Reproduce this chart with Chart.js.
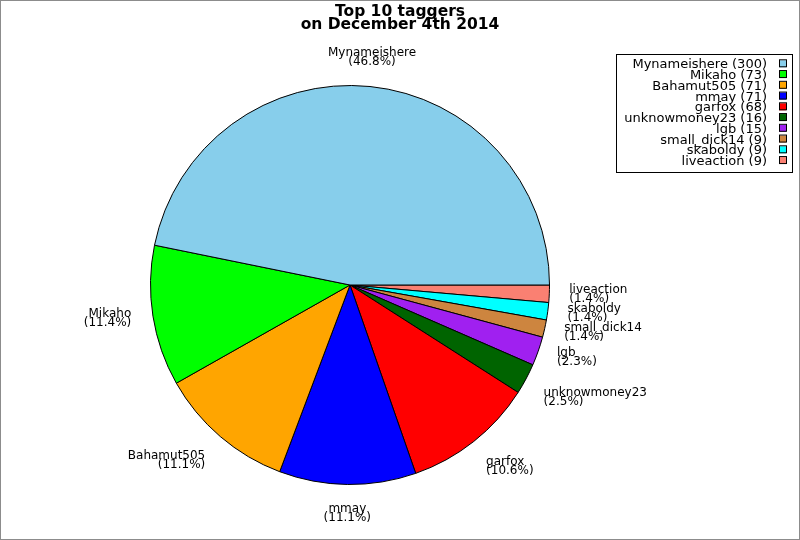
<!DOCTYPE html>
<html>
<head>
<meta charset="utf-8">
<script src="https://cdn.jsdelivr.net/npm/chart.js@4/dist/chart.umd.min.js"></script>
<style>
  html, body { margin: 0; padding: 0; background: #fff; }
  #wrap { width: 800px; height: 540px; }
</style>
</head>
<body>
<div id="wrap"><canvas id="pie" width="800" height="540"></canvas></div>
<script>
// legend order (largest first)
const taggers = ['Mynameishere', 'Mikaho', 'Bahamut505', 'mmay', 'garfox', 'unknowmoney23', 'lgb', 'small_dick14', 'skaboldy', 'liveaction'];
const tagCounts = [300, 73, 71, 71, 68, 16, 15, 9, 9, 9];
const sliceColors = ['#87ceeb', '#00ff00', '#ffa500', '#0000ff', '#ff0000', '#006400', '#a020f0', '#cd853f', '#00ffff', '#fa8072'];
const titleLines = ['Top 10 taggers', 'on December 4th 2014'];

const total = tagCounts.reduce((s, v) => s + v, 0);
const pctText = v => '(' + (v * 100 / total).toFixed(1) + '%)';

// chart.js goes clockwise, the reference goes counter-clockwise from east
const drawNames = taggers.slice().reverse();
const drawCounts = tagCounts.slice().reverse();
const drawColors = sliceColors.slice().reverse();

const framePlugin = {
    id: 'frame',
    beforeDraw(chart) {
        const ctx = chart.ctx;
        ctx.save();
        ctx.fillStyle = '#fff';
        ctx.fillRect(0, 0, chart.width, chart.height);
        ctx.restore();
    },
    afterDraw(chart) {
        const ctx = chart.ctx;
        ctx.save();
        ctx.strokeStyle = '#8c8c8c';
        ctx.lineWidth = 1;
        ctx.strokeRect(0.5, 0.5, chart.width - 1, chart.height - 1);

        // title
        ctx.fillStyle = '#000';
        ctx.font = 'bold 15.5px "DejaVu Sans"';
        ctx.textAlign = 'center';
        ctx.textBaseline = 'alphabetic';
        ctx.fillText(titleLines[0], 400, 15.7);
        ctx.fillText(titleLines[1], 400, 29.3);

        // slice labels
        ctx.font = '12px "DejaVu Sans"';
        const meta = chart.getDatasetMeta(0);
        meta.data.forEach((arc, i) => {
            const p = arc.getProps(['x', 'y', 'startAngle', 'endAngle', 'outerRadius'], true);
            const a = (p.startAngle + p.endAngle) / 2;
            const r = p.outerRadius * 1.1;
            const px = p.x + Math.cos(a) * r;
            const py = p.y + Math.sin(a) * r;
            let deg = -a * 180 / Math.PI;
            deg = ((deg % 360) + 360) % 360;
            const oct = Math.floor(((deg + 22.5) % 360) / 45);
            let hx = 'center', x = px;
            if (oct === 0 || oct === 1 || oct === 7) { hx = 'left'; }
            if (oct === 3 || oct === 4 || oct === 5) { hx = 'right'; x = px - 2; }
            let y0;
            if (oct === 1 || oct === 2 || oct === 3) y0 = py - 11;
            else if (oct === 5 || oct === 6 || oct === 7) y0 = py + 7.5;
            else y0 = py - 1.8;
            ctx.textAlign = hx;
            ctx.fillText(drawNames[i], x, y0);
            ctx.fillText(pctText(drawCounts[i]), x, y0 + 9);
        });

        // legend box
        ctx.strokeStyle = '#000';
        ctx.strokeRect(616.5, 54.5, 176, 118);
        ctx.font = '13px "DejaVu Sans"';
        ctx.textAlign = 'right';
        taggers.forEach((name, i) => {
            const base = 68.3 + i * 10.75;
            ctx.fillStyle = '#000';
            ctx.fillText(name + ' (' + tagCounts[i] + ')', 767, base);
            ctx.fillStyle = sliceColors[i];
            ctx.fillRect(779, base - 8, 7, 7);
            ctx.strokeRect(779.5, base - 8.5, 7, 7);
        });
        ctx.restore();
    }
};

new Chart(document.getElementById('pie'), {
    type: 'pie',
    data: {
        labels: drawNames,
        datasets: [{
            data: drawCounts,
            backgroundColor: drawColors,
            borderColor: '#000',
            borderWidth: 1
        }]
    },
    options: {
        responsive: false,
        animation: false,
        devicePixelRatio: 1,
        rotation: 90,
        layout: { padding: { left: 150, right: 250, top: 85, bottom: 55 } },
        plugins: {
            legend: { display: false },
            title: { display: false },
            tooltip: { enabled: false }
        }
    },
    plugins: [framePlugin]
});
</script>
</body>
</html>
